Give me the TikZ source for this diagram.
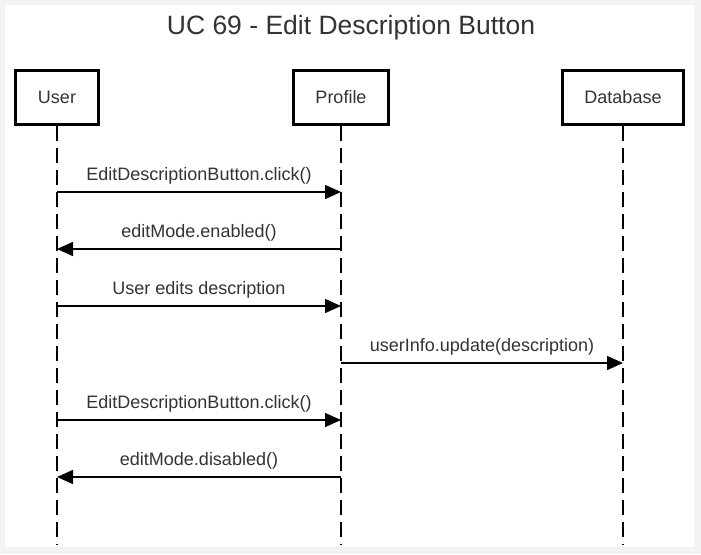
\documentclass[tikz,border=0pt]{standalone}
\usepackage{fontspec}
\setmainfont{Liberation Sans}
\usetikzlibrary{arrows.meta}
\definecolor{txt}{HTML}{333333}
\definecolor{bggray}{HTML}{F3F3F3}
\tikzset{
  actor/.style={draw=black, line width=3pt, fill=white, minimum height=54pt, inner sep=0pt, font=\fontsize{18}{20}\selectfont, text=txt},
  lifeline/.style={draw=black, line width=1.5pt, dash pattern=on 15pt off 7pt},
  msg/.style={draw=black, line width=1.5pt, -{Triangle[length=16pt,width=14pt]}},
  msglabel/.style={font=\fontsize{18}{20}\selectfont, text=txt, inner sep=0pt}
}
\begin{document}
\begin{tikzpicture}[x=1pt,y=-1pt]
\fill[bggray] (0,0) rectangle (701,554);
\useasboundingbox (0,0) rectangle (701,554);
\fill[white] (5,5) rectangle (694,547);
\node[font=\fontsize{26.5}{30}\selectfont, text=txt, anchor=base, inner sep=0pt] (title) at (351,34) {UC 69 - Edit Description Button};
% actors
\node[actor, minimum width=83pt] (user) at (57,97.5) {User};
\node[actor, minimum width=95pt] (profile) at (341,97.5) {Profile};
\node[actor, minimum width=121pt] (db) at (623,97.5) {Database};
% lifeline ends
\coordinate (userEnd) at (57,545);
\coordinate (profileEnd) at (341,545);
\coordinate (dbEnd) at (623,545);
\draw[lifeline] (user.south) -- (userEnd);
\draw[lifeline] (profile.south) -- (profileEnd);
\draw[lifeline] (db.south) -- (dbEnd);
% message anchor points
\foreach \y/\n in {192/1,249/2,306/3,363/4,420/5,477/6}{
  \coordinate (u\n) at (57,\y);
  \coordinate (p\n) at (341,\y);
  \coordinate (d\n) at (623,\y);
}
\draw[msg] (u1) -- node[msglabel, above=7pt] (l1) {EditDescriptionButton.click()} (p1);
\draw[msg] (p2) -- node[msglabel, above=7pt] (l2) {editMode.enabled()} (u2);
\draw[msg] (u3) -- node[msglabel, above=7pt] (l3) {User edits description} (p3);
\draw[msg] (p4) -- node[msglabel, above=7pt] (l4) {userInfo.update(description)} (d4);
\draw[msg] (u5) -- node[msglabel, above=7pt] (l5) {EditDescriptionButton.click()} (p5);
\draw[msg] (p6) -- node[msglabel, above=7pt] (l6) {editMode.disabled()} (u6);
\end{tikzpicture}
\end{document}
